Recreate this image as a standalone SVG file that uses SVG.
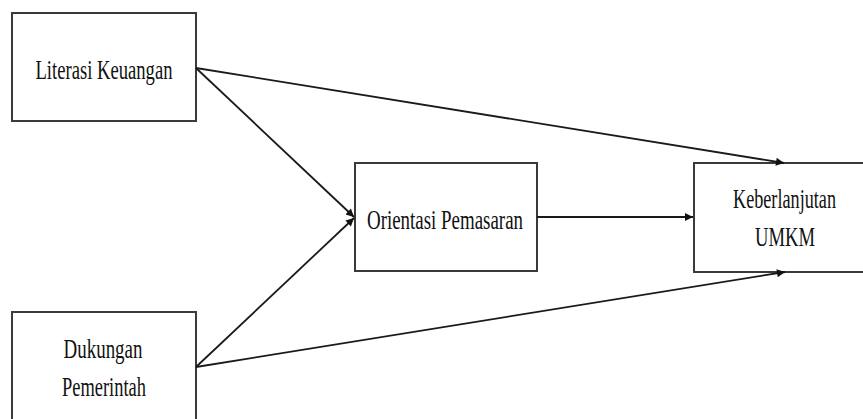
<svg xmlns="http://www.w3.org/2000/svg" width="863" height="419" viewBox="0 0 863 419">
<style>
.box{fill:#fff;stroke:#3a3a3a;stroke-width:2}
.lbl{font-family:"Liberation Serif","Times New Roman",serif;font-size:28px;fill:#111;text-anchor:middle}
.edge{stroke:#1a1a1a;stroke-width:1.8;fill:none;marker-end:url(#ah)}
</style>
<defs>
<marker id="ah" viewBox="0 0 10 10" refX="10" refY="5" markerWidth="11" markerHeight="8" markerUnits="userSpaceOnUse" orient="auto">
<path d="M0,0 L10,5 L0,10 z" fill="#111"/>
</marker>
</defs>
<rect width="863" height="419" fill="#fff"/>
<g id="n-literasi">
<rect class="box" x="12" y="13" width="184" height="108"/>
<text class="lbl" x="104" y="79" textLength="137" lengthAdjust="spacingAndGlyphs">Literasi Keuangan</text>
</g>
<g id="n-dukungan">
<rect class="box" x="12" y="312" width="184" height="120"/>
<text class="lbl" x="103" y="358" textLength="79" lengthAdjust="spacingAndGlyphs">Dukungan</text>
<text class="lbl" x="104" y="396" textLength="84" lengthAdjust="spacingAndGlyphs">Pemerintah</text>
</g>
<g id="n-orientasi">
<rect class="box" x="355" y="163" width="182" height="108"/>
<text class="lbl" x="445" y="229" textLength="156" lengthAdjust="spacingAndGlyphs">Orientasi Pemasaran</text>
</g>
<g id="n-keberlanjutan">
<rect class="box" x="694" y="163" width="170" height="109"/>
<text class="lbl" x="784.5" y="208" textLength="103" lengthAdjust="spacingAndGlyphs">Keberlanjutan</text>
<text class="lbl" x="785" y="246" textLength="60" lengthAdjust="spacingAndGlyphs">UMKM</text>
</g>
<g id="connectors">
<line class="edge" x1="196" y1="68" x2="354" y2="217"/>
<line class="edge" x1="196" y1="367" x2="354" y2="218"/>
<line class="edge" x1="196" y1="68" x2="784" y2="163"/>
<line class="edge" x1="196" y1="367" x2="785" y2="272"/>
<line class="edge" x1="537" y1="217" x2="693" y2="217"/>
</g>
</svg>
